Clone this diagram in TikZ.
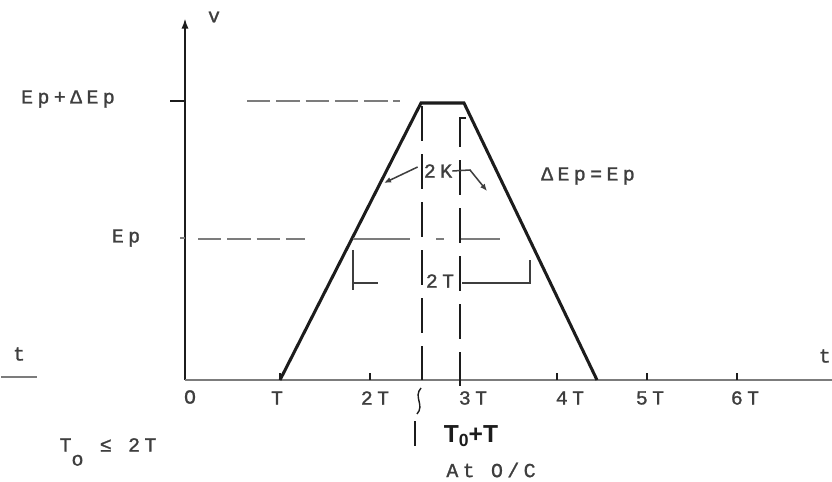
\documentclass[tikz,border=0pt]{standalone}
\usepackage{fontspec}
\usepackage{tikz}
\usetikzlibrary{
    arrows.meta,
    positioning,
    calc
}
\newfontfamily\scanfont[LetterSpace=22,FakeBold=1.2]{Liberation Mono}
\newfontfamily\handfont{Liberation Sans}
\definecolor{scInk}{HTML}{1C1C1C}
\definecolor{scGray}{HTML}{7C7C7C}

\begin{document}
\begin{tikzpicture}[x=0.03cm,y=-0.03cm,
    lbl/.style={font=\scanfont\fontsize{17}{19}\selectfont,text=scInk!85,inner sep=0pt},
    hand/.style={font=\handfont\bfseries\fontsize{21}{23}\selectfont,text=scInk,inner sep=0pt},
    curve/.style={line width=2.6pt,scInk,line join=miter},
    guide/.style={line width=1.9pt,scInk,dash pattern=on 30pt off 11pt},
    level/.style={line width=1.1pt,scGray,dash pattern=on 20pt off 5pt},
    dim/.style={line width=1.3pt,scInk!85}]
        \useasboundingbox (0,0) rectangle (832,482);

        % Axes
        \coordinate (O) at (185,380);
        \coordinate (vtop) at (185,18);
        \coordinate (tend) at (832,380);
        \draw[line width=2pt,scInk,-{Latex[length=9pt,width=6pt]}] (O) -- (vtop);
        \draw[line width=2.2pt,scGray] (O) -- (tend);
        \node[lbl] (vlab) at (214,17) {v};
        \node[lbl,anchor=east] (tlab) at (831,356) {t};
        \node[lbl] (tleft) at (19,354) {t};
        \draw[scGray,line width=1pt] (1,377) -- (37,377);

        % Time ticks
        \node[lbl] (t0) at (190,397) {O};
        \foreach \x/\lx/\lab in {280/277/T,370/375/2T,460/473/3T,557/570/4T,647/650/5T,737/745/6T}{
            \draw[scInk,line width=1.2pt] (\x,380) -- (\x,373);
            \node[lbl] (tick\lab) at (\lx,398) {\lab};
        }

        % Trapezoid
        \coordinate (A) at (280,380);
        \coordinate (B) at (421,103);
        \coordinate (C) at (464,103);
        \coordinate (D) at (597,380);
        \draw[curve] (A) -- (B) -- (C) -- (D);

        % Levels
        \node[lbl] (epmax) at (68,99) {Ep+ΔEp};
        \draw[scInk,line width=1.2pt] (170,101) -- (185,101);
        \draw[level] (247,101) -- (400,101);
        \node[lbl] (ep) at (126,238) {Ep};
        \draw[scGray,line width=1pt] (180,238) -- (185,238);
        \draw[level] (198,239) -- (305,239);
        \draw[scGray,line width=1.1pt] (353,239) -- (410,239) (436,239) -- (444,239) (460,239) -- (500,239);

        % Vertical guides
        \draw[guide] (422,106) -- (422,380);
        \draw[guide] (466,118) -- (460,118) -- (460,386);
        \draw[scInk,line width=1.2pt] (421,388) .. controls (413,397) and (425,405) .. (417,414);
        \draw[scInk,line width=2.4pt] (415,421) -- (415,446);

        % Slope note
        \node[lbl] (k2) at (438,171) {2K};
        \coordinate (kL) at (384,183);
        \coordinate (kR) at (487,191);
        \draw[dim,-{Latex[length=6pt,width=5pt]}] (k2.west) ++(-6,-4) -- (kL);
        \draw[dim,-{Latex[length=6pt,width=5pt]}] (k2.east) -- (470,170) -- (kR);
        \node[lbl] (dep) at (588,176) {ΔEp=Ep};

        % Width at Ep
        \node[lbl] (w2) at (440,281) {2T};
        \draw[dim] (353,250) -- (353,290) (353,283) -- (378,283);
        \draw[dim] (w2.east) ++(8,2) -- (530,283) -- (530,260);

        % Notes
        \node[hand] (tot) at (471,436) {T\raisebox{-3pt}{\fontsize{15}{17}\selectfont 0}+T};
        \node[lbl] (atoc) at (491,470) {At O/C};
        \node[lbl] (tcond) at (108,452) {T\raisebox{-12pt}{o} ≤ 2T};
    \end{tikzpicture}
\end{document}
